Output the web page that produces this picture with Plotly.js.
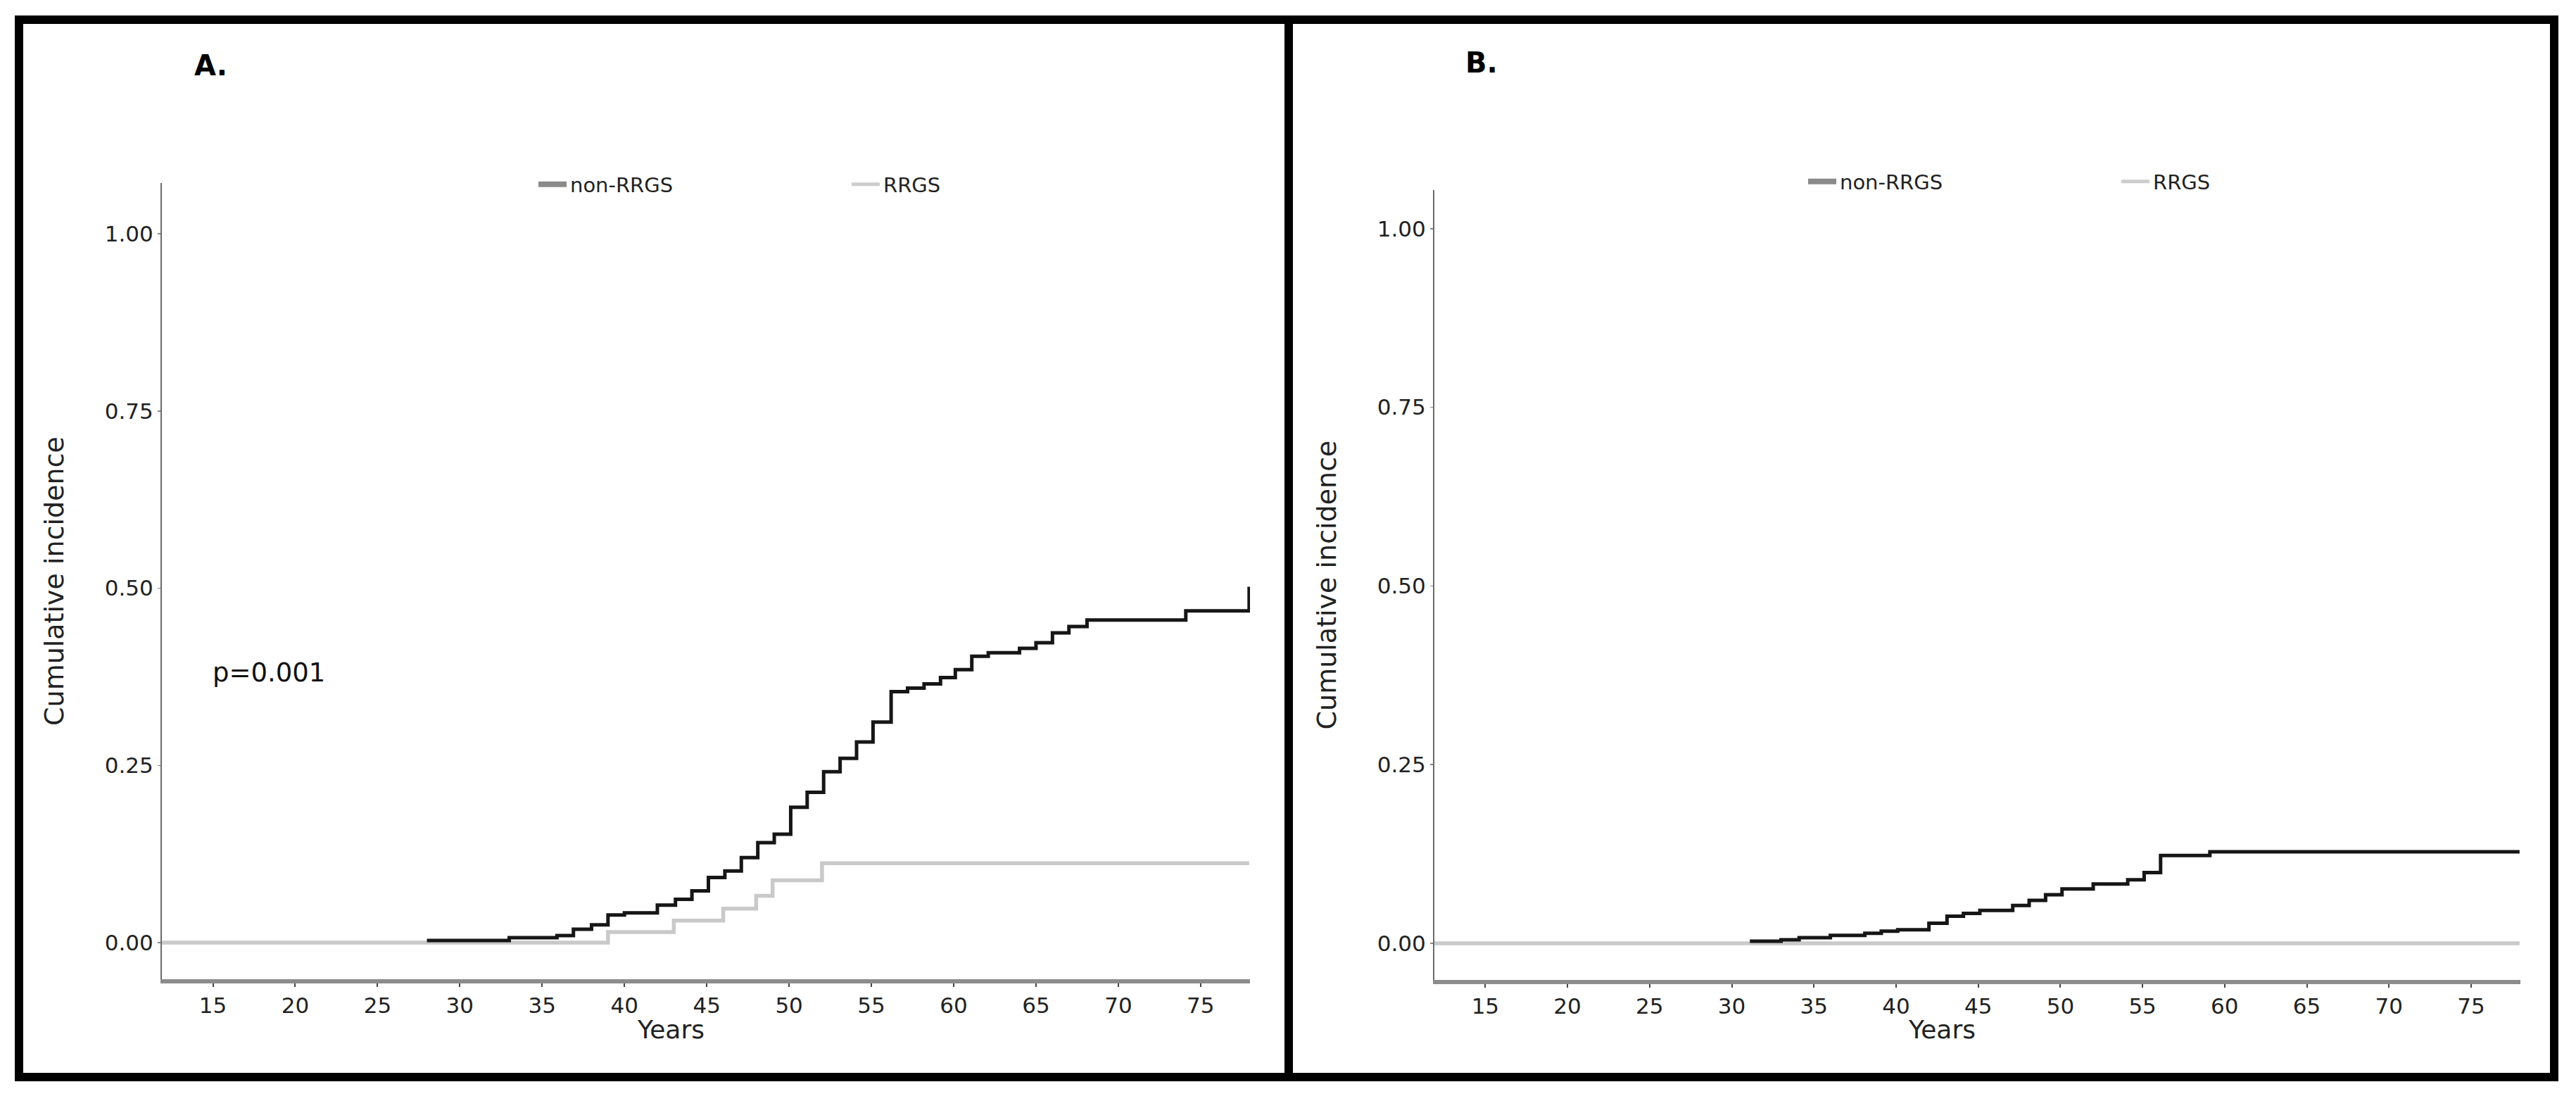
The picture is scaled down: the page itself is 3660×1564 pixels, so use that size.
<!DOCTYPE html>
<html>
<head>
<meta charset="utf-8">
<script src="https://cdn.plot.ly/plotly-3.0.1.min.js"></script>
<style>html,body{margin:0;padding:0;background:#fff;}#chart{width:3660px;height:1564px;}</style>
</head>
<body>
<div id="chart"></div>
<script>
// ---- data ----
const seriesNames = ['non-RRGS', 'RRGS'];
const panelLabels = ['A.', 'B.'];
const pValueText = 'p=0.001';
const xTitle = 'Years';
const yTitle = 'Cumulative incidence';
const xTickVals = [15, 20, 25, 30, 35, 40, 45, 50, 55, 60, 65, 70, 75];
const yTickVals = [0, 0.25, 0.5, 0.75, 1];
const yTickText = ['0.00', '0.25', '0.50', '0.75', '1.00'];

// Panel A
const aNonRrgsYears = [28.0, 33.0, 35.9, 36.9, 38.0, 39.0, 40.0, 42.0, 43.1, 44.1, 45.1, 46.1, 47.1, 48.1, 49.1, 50.1, 51.1, 52.1, 53.1, 54.1, 55.1, 56.2, 57.2, 58.2, 59.2, 60.1, 61.1, 62.1, 64.0, 65.0, 66.0, 67.0, 68.1, 74.1, 77.95];
const aNonRrgsInc = [0.003, 0.007, 0.010, 0.019, 0.025, 0.039, 0.042, 0.053, 0.061, 0.073, 0.092, 0.101, 0.120, 0.141, 0.153, 0.191, 0.212, 0.241, 0.260, 0.283, 0.311, 0.354, 0.359, 0.365, 0.374, 0.385, 0.404, 0.409, 0.415, 0.423, 0.437, 0.446, 0.455, 0.468, 0.502];
const aRrgsYears = [11.9, 39.0, 43.0, 46.0, 48.0, 49.0, 52.0, 77.95];
const aRrgsInc = [0, 0.015, 0.031, 0.048, 0.066, 0.088, 0.112, 0.112];

// Panel B
const bNonRrgsYears = [31.1, 33.0, 34.1, 36.0, 38.1, 39.1, 40.1, 42.0, 43.1, 44.1, 45.1, 47.1, 48.1, 49.1, 50.1, 52.0, 54.1, 55.1, 56.1, 59.1, 77.95];
const bNonRrgsInc = [0.003, 0.005, 0.008, 0.011, 0.014, 0.017, 0.019, 0.028, 0.038, 0.042, 0.046, 0.053, 0.060, 0.068, 0.076, 0.083, 0.089, 0.099, 0.123, 0.128, 0.128];
const bRrgsYears = [11.9, 77.95];
const bRrgsInc = [0, 0];

// ---- geometry helpers (pixels -> paper) ----
const W = 3660, H = 1564;
const px = v => v / W;
const py = v => 1 - v / H;

const FONT = 'DejaVu Sans';
const colBlack = '#161616';
const colLight = '#c9c9c9';
const legBlack = '#8a8a8a';
const legLight = '#cdcdcd';

function curve(x, y, color, width, xa, ya) {
  return {x: x, y: y, type: 'scatter', mode: 'lines', line: {shape: 'hv', color: color, width: width},
          xaxis: xa, yaxis: ya, showlegend: false, hoverinfo: 'x+y'};
}
function legendOnly(name, color, width, xa, ya, leg) {
  return {x: [null], y: [null], type: 'scatter', mode: 'lines', name: name,
          line: {color: color, width: width}, xaxis: xa, yaxis: ya, legend: leg, showlegend: true};
}

const data = [
  curve(aRrgsYears, aRrgsInc, colLight, 5.5, 'x', 'y'),
  curve(aNonRrgsYears, aNonRrgsInc, colBlack, 5, 'x', 'y'),
  curve(bRrgsYears, bRrgsInc, colLight, 5.5, 'x2', 'y2'),
  curve(bNonRrgsYears, bNonRrgsInc, colBlack, 5, 'x2', 'y2'),
  legendOnly(seriesNames[0], legBlack, 8, 'x', 'y', 'legend'),
  legendOnly(seriesNames[1], legLight, 5, 'x', 'y', 'legend'),
  legendOnly(seriesNames[0], legBlack, 8, 'x2', 'y2', 'legend2'),
  legendOnly(seriesNames[1], legLight, 5, 'x2', 'y2', 'legend2')
];

function xAxis(dom, anchor) {
  return {domain: dom, anchor: anchor, range: [11.9, 78.0], tickvals: xTickVals,
          ticks: 'outside', ticklen: 5, tickwidth: 2, tickcolor: '#444',
          showline: true, linecolor: '#8c8c8c', linewidth: 6, showgrid: false, zeroline: false,
          tickfont: {family: FONT, size: 31, color: '#222'}, fixedrange: true};
}
function yAxis(dom, anchor, range) {
  return {domain: dom, anchor: anchor, range: range, tickvals: yTickVals, ticktext: yTickText,
          ticks: 'outside', ticklen: 4, tickwidth: 1.5, tickcolor: '#888',
          showline: true, linecolor: '#6a6a6a', linewidth: 2, showgrid: false, zeroline: false,
          tickfont: {family: FONT, size: 31, color: '#222'},
          title: {text: yTitle, font: {family: FONT, size: 38, color: '#222'}, standoff: 46}, fixedrange: true};
}

const legendBase = {orientation: 'h', xanchor: 'left', yanchor: 'middle', entrywidth: 390, entrywidthmode: 'pixels',
                    font: {family: FONT, size: 29, color: '#222'}, bgcolor: 'rgba(0,0,0,0)', borderwidth: 0, itemwidth: 40};

const layout = {
  width: W, height: H,
  margin: {l: 0, r: 0, t: 0, b: 0},
  paper_bgcolor: '#ffffff', plot_bgcolor: '#ffffff',
  xaxis: xAxis([px(230), px(1776)], 'y'),
  yaxis: yAxis([py(1391), py(260)], 'x', [-0.0516, 1.0715]),
  xaxis2: xAxis([px(2038), px(3581)], 'y2'),
  yaxis2: yAxis([py(1392), py(270)], 'x2', [-0.0512, 1.054]),
  legend: Object.assign({}, legendBase, {x: px(760), y: py(262)}),
  legend2: Object.assign({}, legendBase, {x: px(2564), y: py(258)}),
  shapes: [
    {type: 'rect', xref: 'paper', yref: 'paper', x0: px(27), x1: px(1831), y0: py(1530), y1: py(28), line: {color: '#000', width: 12}},
    {type: 'rect', xref: 'paper', yref: 'paper', x0: px(1831), x1: px(3629), y0: py(1530), y1: py(28), line: {color: '#000', width: 12}}
  ],
  annotations: [
    {text: '<b>' + panelLabels[0] + '</b>', xref: 'paper', yref: 'paper', x: px(274), y: py(93), xanchor: 'left', yanchor: 'middle', showarrow: false, font: {family: FONT, size: 40, color: '#000'}},
    {text: '<b>' + panelLabels[1] + '</b>', xref: 'paper', yref: 'paper', x: px(2080), y: py(89), xanchor: 'left', yanchor: 'middle', showarrow: false, font: {family: FONT, size: 40, color: '#000'}},
    {text: pValueText, xref: 'paper', yref: 'paper', x: px(300), y: py(955), xanchor: 'left', yanchor: 'middle', showarrow: false, font: {family: FONT, size: 37, color: '#111'}},
    {text: xTitle, xref: 'x', yref: 'paper', x: 42.8, y: py(1462), xanchor: 'center', yanchor: 'middle', showarrow: false, font: {family: FONT, size: 36, color: '#222'}},
    {text: xTitle, xref: 'x2', yref: 'paper', x: 42.8, y: py(1462), xanchor: 'center', yanchor: 'middle', showarrow: false, font: {family: FONT, size: 36, color: '#222'}}
  ],
  showlegend: true
};

Plotly.newPlot('chart', data, layout, {displayModeBar: false, staticPlot: true});
</script>
</body>
</html>
